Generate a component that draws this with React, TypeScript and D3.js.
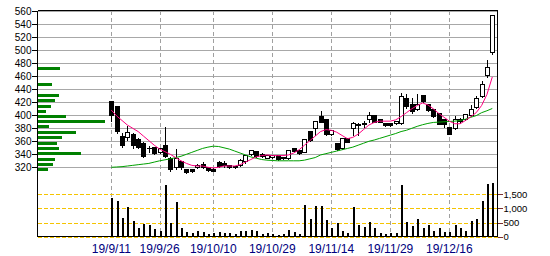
import React from 'react';
import * as d3 from 'd3';

// ---- data ----
const opens = [422,415,368,367,371,364,358,349,352,343,354,335,320,329,318,317,320,325,320,318,328,327,323,321,323,329,341,345,341,335,336,339,334,334,349,346,344,376,380,399,394,371,357,349,364.6,380,385,387,394,401,394,388,388,388,388,426,418,409,432,418,409,403,394,382,380,395,394,400,413,429,462,498];
const highs = [423,416,374,385,374,366,360,355,353,351,384,337,349,331,319,318,326,330,322,320,331,331,324,323,334,341,348,347,343,341,341,341,337,348,350,347,364,377,392,408,395,378,358,365,365,392,390,393,407,402,395,389,389,393,436,434,428,434,433,419,410,404,395,384,400,397,404,418,431,454,486,555];
const lows = [391,373,351,362,350,350,336,344,340,342,336,315,318,318,311,313,319,319,315,314,321,320,319,319,322,327,339,336,336,334,335,332,333,333,344,341,343,360,370,389,370,370,347,348,359,370,370,382,390,389,389,384,384,386,386,412,404,408,420,406,398,386,382,371,379,388,393,399,411,428,459,495];
const closes = [400,376,355,375,355,352,337,350,342,349,337,317,334,320,313,314,324,321,316,315,322,323,320,321.5,332,339,346,338,337,339,339,333,336,346,345,342,363,362,391,390,371,377,348,364.6,359.4,387.6,386,388,400,390,390,385,385,392,430,415,406,417,422,408,399,387,387,372,394,392,402,409,426,448,474,554];
const volumes = [1386,1268,663,1054,557,308,462,415,273,201,1836,498,1232,308,166,130,201,166,95,130,166,130,130,95,201,201,237,201,95,130,95,59,95,237,166,95,1126,628,1090,1090,592,308,486,201,130,1054,415,344,521,308,130,95,130,130,1836,521,379,628,308,415,201,308,166,166,415,308,201,557,628,1268,1872,1908];
const maShort = [408,399,392,385,380,375,368,361,354,348,344,340,335,330,326,323,322,322,320,319,320,322,322,322,324,328,332,336,338,339,338,338,338,339,342,347,354,361,368,375,378,377,374,369,364,366,371,378,385,389,391,391,391,393,398,404,410,415,419,416,410,403,397,391,387,387,392,398,404,415,432,459];
const maLong = [320,320.5,321,322,323,324,325,326,328,330,331.5,333,335,337,340,343,346,349,351,352.5,352,350,348,345,342,339,336,334,332,331,330.5,330,330,330,330,330,331,333,335,339,341,343,345,347,349,351,354,357,360,362,364.5,367,369.5,372,375,377,380,383,385.5,387.5,389,389.5,390,390.5,391,392,394,397,399.5,404,407,410.5];

const profilePrice = [317,325,333,342,350,358,366,374,383,391,399,407,415,424,432,448,473];
const profileVolume = [10.5,15.5,17.5,43.5,21.5,19.5,24.5,38.5,11.5,67.5,28.5,8.5,13.5,17.5,21.5,14.5,22.5];

const priceTicks = [320,340,360,380,400,420,440,460,480,500,520,540,560];
const volumeTicks = [0,500,1000,1500];
const volumeTickLabels = ['0','500','1,000','1,500'];
const dateTickIndex = [0,9,19,30,41,52,63];
const dateTickLabels = ['19/9/11','19/9/26','19/10/10','19/10/29','19/11/14','19/11/29','19/12/16'];

export default function App() {
  const W = 550, H = 256;
  const left = 37.5, right = 497.5, top = 10.5, bottom = 236.5;
  const x = d3.scaleLinear().domain([0, 71]).range([111.3, 492.3]);
  const y = d3.scaleLinear().domain([320, 560]).range([167.3, 11.3]);
  const yv = d3.scaleLinear().domain([0, 1500]).range([236.7, 194.3]);
  const xp = d3.scaleLinear().domain([0, 67.5]).range([38, 105]);
  const cx = (i: number) => Math.round(x(i)) + 0.5;
  const py = (p: number) => Math.round(y(p)) + 0.5;

  const line = d3.line<number>().x((_, i) => x(i)).y(d => y(d));
  const font = 'Liberation Sans, Arial, sans-serif';

  return (
    <svg width={W} height={H} style={{ position: 'absolute', left: 0, top: 0, background: '#fff' }}>
      <rect x={0} y={0} width={W} height={H} fill="#fff" />
      {/* price grid */}
      {priceTicks.map(p => (
        <line key={'g' + p} x1={left} x2={right} y1={py(p)} y2={py(p)} stroke="#a8a8a8" strokeWidth={1} shapeRendering="crispEdges" />
      ))}
      {/* date dashed lines */}
      {dateTickIndex.map(i => (
        <line key={'d' + i} x1={cx(i)} x2={cx(i)} y1={top} y2={bottom} stroke="#a0a0a0" strokeDasharray="4,3" strokeWidth={1} shapeRendering="crispEdges" />
      ))}
      {/* volume grid */}
      {volumeTicks.map(v => (
        <line key={'vg' + v} x1={left} x2={right} y1={Math.round(yv(v)) + 0.5} y2={Math.round(yv(v)) + 0.5} stroke="#f5c400" strokeDasharray="4,2" strokeWidth={1} shapeRendering="crispEdges" />
      ))}
      {/* volume bars */}
      {volumes.map((v, i) => (
        <rect key={'v' + i} x={Math.round(x(i)) - 0.5} width={2} y={yv(v)} height={yv(0) - yv(v)} fill="#000" shapeRendering="crispEdges" />
      ))}
      {/* volume profile */}
      {profilePrice.map((p, k) => (
        <rect key={'p' + k} x={xp(0)} width={xp(profileVolume[k]) - xp(0)} y={Math.round(y(p)) - 1} height={3} fill="#008000" shapeRendering="crispEdges" />
      ))}
      {/* candles */}
      {opens.map((o, i) => {
        const c = closes[i];
        const up = c >= o;
        const yt = py(Math.max(o, c));
        const yb = py(Math.min(o, c));
        return (
          <g key={'c' + i} shapeRendering="crispEdges">
            <line x1={cx(i)} x2={cx(i)} y1={py(highs[i])} y2={py(lows[i])} stroke="#000" strokeWidth={1} />
            <rect x={cx(i) - 2} y={yt} width={4} height={Math.max(0.01, yb - yt)} fill={up ? '#fff' : '#000'} stroke="#000" strokeWidth={1} />
          </g>
        );
      })}
      {/* moving averages */}
      <path d={line(maLong) || ''} fill="none" stroke="#00a000" strokeWidth={1} />
      <path d={line(maShort) || ''} fill="none" stroke="#ff0080" strokeWidth={1} />
      {/* frame / axes */}
      <line x1={left} x2={right} y1={top} y2={top} stroke="#000" shapeRendering="crispEdges" />
      <line x1={left} x2={left} y1={top} y2={bottom} stroke="#000" shapeRendering="crispEdges" />
      <line x1={right} x2={right} y1={top} y2={bottom} stroke="#000" shapeRendering="crispEdges" />
      <line x1={left} x2={right} y1={bottom} y2={bottom} stroke="#000" shapeRendering="crispEdges" />
      {/* price axis */}
      {priceTicks.map(p => (
        <g key={'pt' + p}>
          <line x1={32} x2={left} y1={py(p)} y2={py(p)} stroke="#000" shapeRendering="crispEdges" />
          <text x={31.5} y={y(p) + 3.6} textAnchor="end" fontFamily={font} fontSize={10} fill="#000">{p}</text>
        </g>
      ))}
      {/* volume axis */}
      {volumeTicks.map((v, k) => (
        <g key={'vt' + v}>
          <line x1={right} x2={503} y1={Math.round(yv(v)) + 0.5} y2={Math.round(yv(v)) + 0.5} stroke="#7a3030" shapeRendering="crispEdges" />
          <text x={503.5} y={yv(v) + 3.6} fontFamily={font} fontSize={9.5} fill="#000">{volumeTickLabels[k]}</text>
        </g>
      ))}
      {/* date labels */}
      {dateTickIndex.map((i, k) => (
        <text key={'dl' + i} x={x(i)} y={252.5} textAnchor="middle" fontFamily={font} fontSize={12} fill="#000080">{dateTickLabels[k]}</text>
      ))}
    </svg>
  );
}
